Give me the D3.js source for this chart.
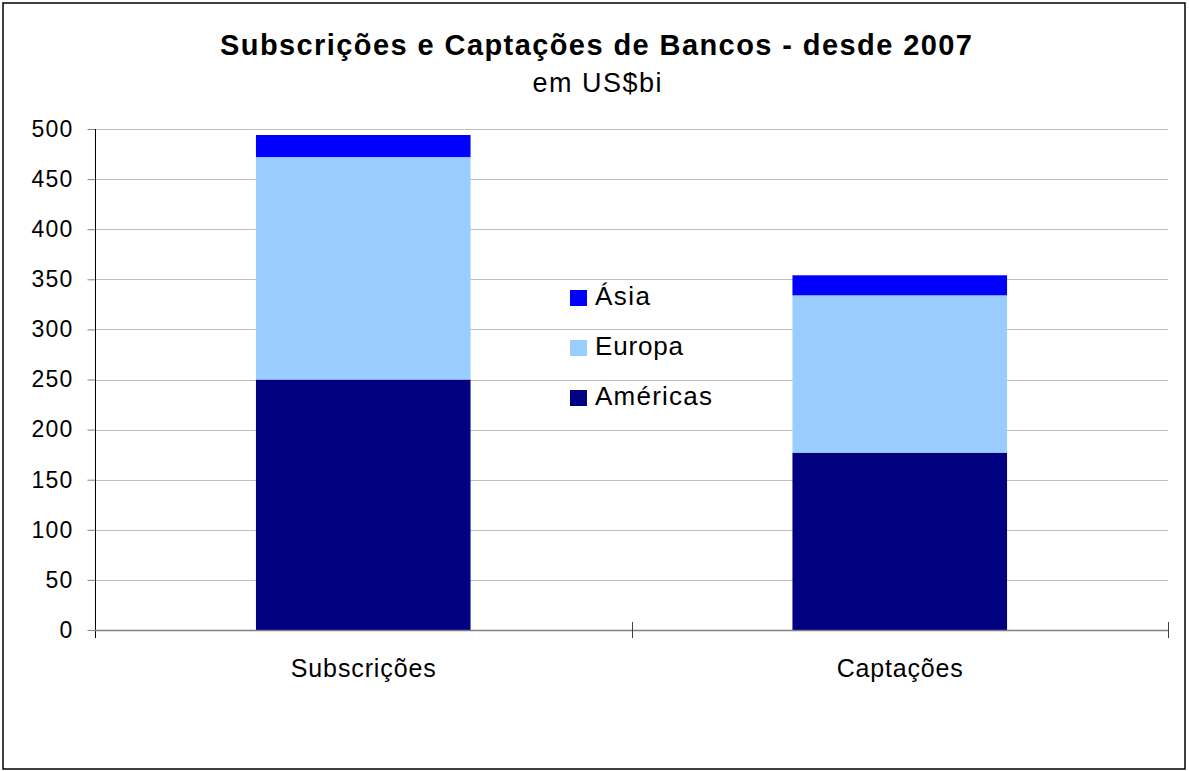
<!DOCTYPE html>
<html>
<head>
<meta charset="utf-8">
<script src="https://d3js.org/d3.v7.min.js"></script>
<style>
  body { margin: 0; background: #fff; }
  text { font-family: "Liberation Sans", Arial, sans-serif; }
</style>
</head>
<body>
<svg id="chart" width="1189" height="771"></svg>
<script>
const categories = ["Subscrições", "Captações"];
const seriesNames = ["Américas", "Europa", "Ásia"];
const americas = [250, 177];
const europa = [222, 157];
const asia = [22, 20];
const yTicks = [0, 50, 100, 150, 200, 250, 300, 350, 400, 450, 500];
const colors = ["#000080", "#99CCFF", "#0000FF"];
const title = "Subscrições e Captações de Bancos - desde 2007";
const subtitle = "em US$bi";

const svg = d3.select("#chart");
const m = { left: 95, right: 1168, top: 129, bottom: 630 };

svg.append("rect").attr("x", 3).attr("y", 3).attr("width", 1182).attr("height", 766)
  .attr("fill", "#fff").attr("stroke", "#000").attr("stroke-width", 1.5);

const x = d3.scaleBand().domain(categories).range([m.left, m.right])
  .paddingInner(0.6).paddingOuter(0.3);
const xOuter = d3.scaleBand().domain(categories).range([m.left, m.right]).padding(0);
const y = d3.scaleLinear().domain([0, 500]).range([m.bottom, m.top]);

// gridlines
svg.append("g").selectAll("line").data(yTicks.filter(d => d > 0)).join("line")
  .attr("x1", m.left).attr("x2", m.right)
  .attr("y1", d => Math.round(y(d)) + 0.5).attr("y2", d => Math.round(y(d)) + 0.5)
  .attr("stroke", "#c0c0c0").attr("stroke-width", 1);

// stacked bars
const rows = categories.map((c, i) => ({ cat: c, "Américas": americas[i], "Europa": europa[i], "Ásia": asia[i] }));
const stack = d3.stack().keys(seriesNames)(rows);
svg.append("g").selectAll("g").data(stack).join("g")
  .attr("fill", (d, i) => colors[i])
  .selectAll("rect").data(d => d).join("rect")
  .attr("x", d => x(d.data.cat))
  .attr("width", x.bandwidth())
  .attr("y", d => y(d[1]))
  .attr("height", d => y(d[0]) - y(d[1]));

// y axis
const yAxis = svg.append("g").attr("transform", `translate(${m.left + 0.5},0)`)
  .call(d3.axisLeft(y).tickValues(yTicks).tickSize(8).tickPadding(14));
yAxis.select(".domain").remove();
yAxis.selectAll(".tick line").attr("stroke", "#808080");
yAxis.selectAll("text").attr("font-size", 23).attr("letter-spacing", 1.2).attr("fill", "#000")
  .attr("font-family", '"Liberation Sans", Arial, sans-serif');
svg.append("line").attr("x1", m.left + 0.5).attr("x2", m.left + 0.5)
  .attr("y1", m.top).attr("y2", m.bottom + 8).attr("stroke", "#000");

// x axis
svg.append("line").attr("x1", m.left).attr("x2", m.right)
  .attr("y1", m.bottom + 0.5).attr("y2", m.bottom + 0.5).attr("stroke", "#808080").attr("stroke-width", 1.5);
const xTickPos = [xOuter(categories[0]) + xOuter.bandwidth(), m.right];
svg.append("g").selectAll("line").data(xTickPos).join("line")
  .attr("x1", d => Math.round(d) + 0.5).attr("x2", d => Math.round(d) + 0.5)
  .attr("y1", m.bottom - 8).attr("y2", m.bottom + 8).attr("stroke", "#404040");
const catLen = [145, 126];
svg.append("g").selectAll("text").data(categories).join("text")
  .attr("x", d => x(d) + x.bandwidth() / 2).attr("y", 677)
  .attr("text-anchor", "middle").attr("font-size", 25)
  .attr("textLength", (d, i) => catLen[i]).attr("lengthAdjust", "spacing")
  .text(d => d);

// title
svg.append("text").attr("x", 596).attr("y", 55).attr("text-anchor", "middle")
  .attr("font-size", 29).attr("font-weight", "bold")
  .attr("textLength", 752).attr("lengthAdjust", "spacing").text(title);
svg.append("text").attr("x", 597).attr("y", 92).attr("text-anchor", "middle")
  .attr("font-size", 27).attr("textLength", 129).attr("lengthAdjust", "spacing").text(subtitle);

// legend
const legendOrder = ["Ásia", "Europa", "Américas"];
const legLen = [55, 88, 117];
const lg = svg.append("g").selectAll("g").data(legendOrder).join("g")
  .attr("transform", (d, i) => `translate(570,${290 + i * 50})`);
lg.append("rect").attr("width", 17).attr("height", 16)
  .attr("fill", d => colors[seriesNames.indexOf(d)]);
lg.append("text").attr("x", 25).attr("y", 15).attr("font-size", 26)
  .attr("textLength", (d, i) => legLen[i]).attr("lengthAdjust", "spacing")
  .text(d => d);
</script>
</body>
</html>
